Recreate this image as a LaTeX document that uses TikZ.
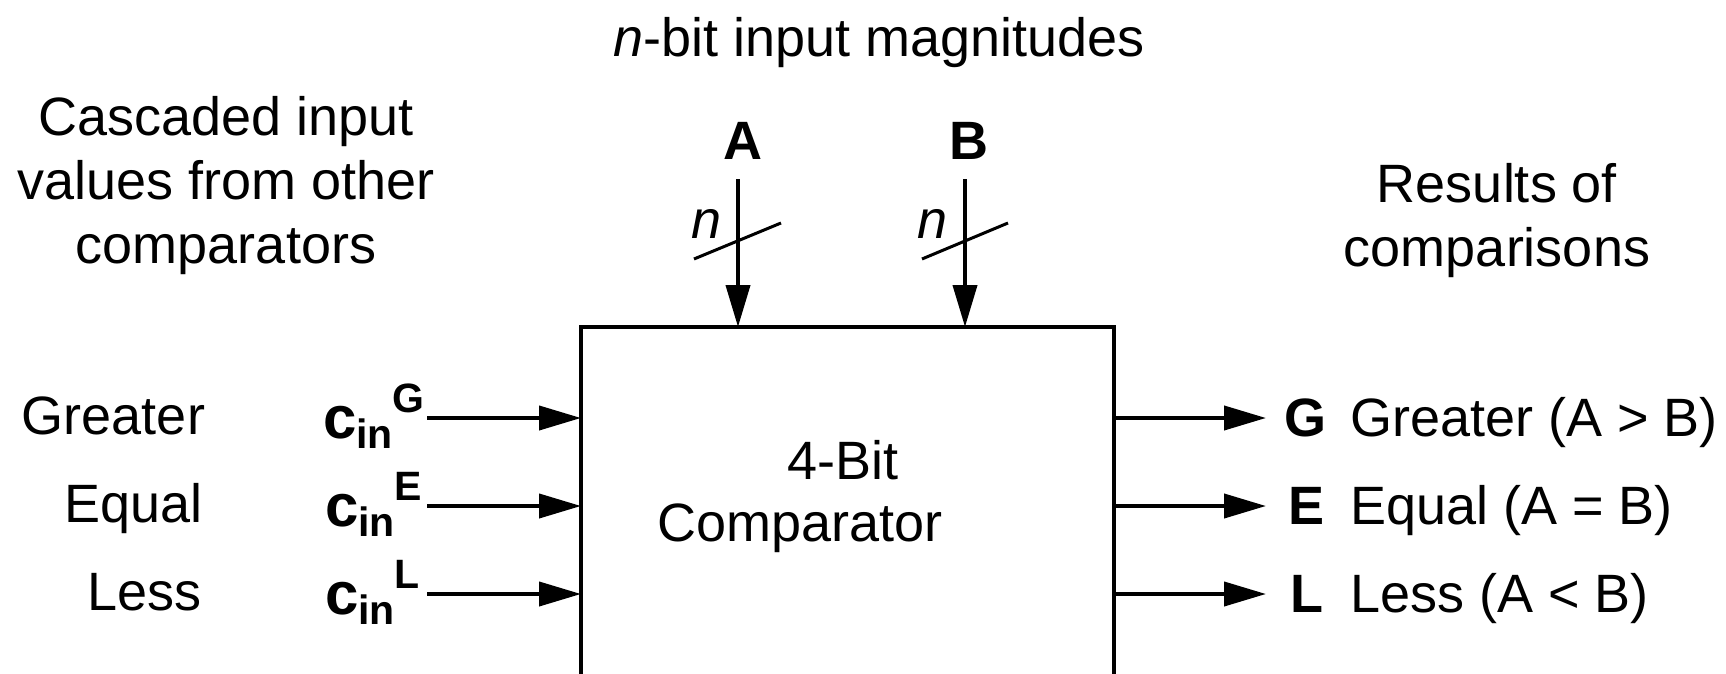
\documentclass[tikz,border=0pt]{standalone}
\usepackage{fontspec}
\setmainfont{Liberation Sans}
\usetikzlibrary{arrows.meta}
\newcommand\cinlabel[1]{\textbf{{\fontsize{60}{60}\selectfont c}\raisebox{-10pt}{\fontsize{41}{41}\selectfont in}\raisebox{26pt}{\fontsize{41}{41}\selectfont #1}}}
\begin{document}
\begin{tikzpicture}[x=1pt,y=-1pt,
  every node/.style={inner sep=0pt, outer sep=0pt, font=\fontsize{54}{64}\selectfont},
  wire/.style={line width=4pt},
  arr/.style={wire,-{Triangle[length=42pt,width=24pt]}},
  slashline/.style={line width=3pt},
  block/.style={draw, line width=4pt, minimum width=533pt, minimum height=420pt, anchor=north west}]
\useasboundingbox (0,0) rectangle (1726,674);
% comparator block (bottom runs off the picture)
\node[block] (comp) at (581,327) {};
\node[anchor=base] (t4) at (843,479) {4-Bit};
\node[anchor=base] (tc) at (800,541) {Comparator};
% top
\node[anchor=base] (title) at (879,57) {\textit{n}-bit input magnitudes};
\node[anchor=base] (A) at (743,160) {\textbf{A}};
\node[anchor=base] (B) at (969,160) {\textbf{B}};
\coordinate (aTop) at (738,179);
\coordinate (bTop) at (965,179);
\draw[arr] (aTop) -- (aTop |- comp.north);
\draw[arr] (bTop) -- (bTop |- comp.north);
\draw[slashline] (694,259) -- (781,223);
\draw[slashline] (922,259) -- (1008,223);
\node[anchor=base] (nA) at (707,238) {\textit{n}};
\node[anchor=base] (nB) at (933,238) {\textit{n}};
% left side
\node[align=center] (casc) at (226,186) {Cascaded input\\values from other\\comparators};
\node[anchor=base east] (lgr) at (205,434) {Greater};
\node[anchor=base east] (leq) at (203,522) {Equal};
\node[anchor=base east] (lle) at (202,610) {Less};
\node[anchor=base west] (cG) at (323,438) {\cinlabel{G}};
\node[anchor=base west] (cE) at (325,526) {\cinlabel{E}};
\node[anchor=base west] (cL) at (325,614) {\cinlabel{L}};
\coordinate (gIn) at (427,418);
\coordinate (eIn) at (427,506);
\coordinate (lIn) at (427,594);
\draw[arr] (gIn) -- (gIn -| comp.west);
\draw[arr] (eIn) -- (eIn -| comp.west);
\draw[arr] (lIn) -- (lIn -| comp.west);
% right side
\node[align=center] (res) at (1497,221) {Results of\\comparisons};
\node[anchor=base west] (oG) at (1284,436) {\textbf{G}};
\node[anchor=base west] (oE) at (1288,524) {\textbf{E}};
\node[anchor=base west] (oL) at (1290,612) {\textbf{L}};
\node[anchor=base west] (tG) at (1350,436) {Greater (A > B)};
\node[anchor=base west] (tE) at (1350,524) {Equal (A = B)};
\node[anchor=base west] (tL) at (1350,612) {Less (A < B)};
\coordinate (gOut) at (1266,418);
\coordinate (eOut) at (1266,506);
\coordinate (lOut) at (1266,594);
\draw[arr] (gOut -| comp.east) -- (gOut);
\draw[arr] (eOut -| comp.east) -- (eOut);
\draw[arr] (lOut -| comp.east) -- (lOut);
\end{tikzpicture}
\end{document}
